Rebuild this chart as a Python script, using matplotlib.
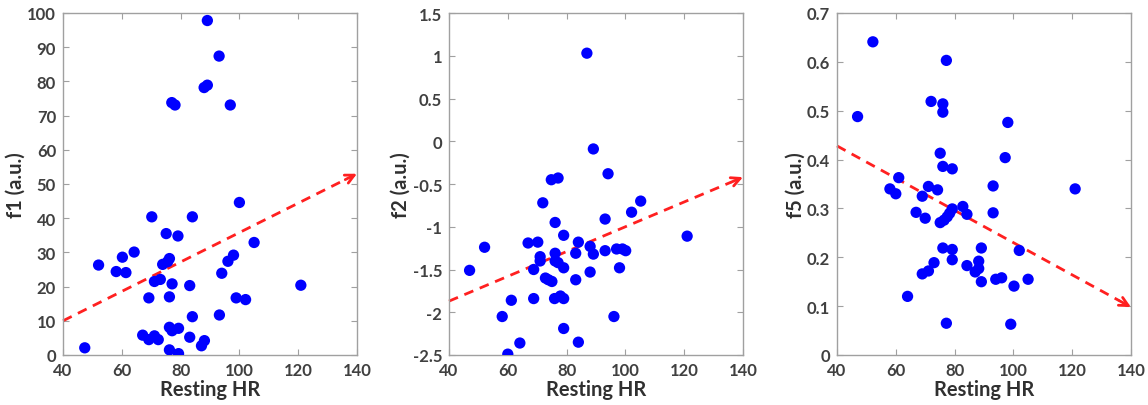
import matplotlib
matplotlib.use("Agg")
import matplotlib.pyplot as plt

plt.rcParams['font.family'] = ['Lato', 'DejaVu Sans']

# Resting heart rate and feature values, one pair of arrays per panel
hr_f1 = [47.4, 52.1, 58.1, 60.2, 61.4, 64.2, 67.1, 69.2, 69.2, 70.2, 71.1, 71.1,
         72.4, 73.1, 73.9, 75.1, 75.6, 76.2, 76.2, 76.2, 76.2, 77.1, 77.1, 79.3,
         79.1, 79.3, 83.1, 83.1, 84.0, 84.0, 87.1, 88.1, 93.2, 94.0, 96.1, 98.0,
         98.9, 100.0, 102.1, 105.0, 120.9, 77.0, 78.1, 88.0, 89.1, 89.1, 93.1, 96.9]
f1 = [2.1, 26.3, 24.4, 28.6, 24.1, 30.1, 5.8, 4.5, 16.7, 40.4, 5.6, 21.5,
      4.5, 22.1, 26.5, 35.5, 27.3, 28.2, 17.0, 8.1, 1.5, 20.8, 7.1, 7.8,
      34.8, 0.4, 20.3, 5.2, 40.4, 11.2, 2.7, 4.2, 11.7, 23.9, 27.4, 29.2,
      16.7, 44.6, 16.2, 32.9, 20.4, 73.8, 73.1, 78.2, 78.9, 97.8, 87.4, 73.1]

hr_f2 = [47.0, 52.1, 58.1, 60.0, 61.2, 64.1, 66.9, 68.8, 68.8, 70.2, 71.0, 71.0,
         71.9, 72.8, 73.8, 75.0, 75.9, 76.1, 76.1, 76.1, 77.1, 77.9, 79.0, 79.0,
         79.0, 79.0, 83.1, 83.1, 84.0, 84.0, 88.0, 88.0, 89.1, 93.1, 93.1, 96.1,
         97.0, 98.0, 99.0, 100.1, 102.1, 105.2, 121.0, 86.9, 89.1, 74.8, 77.1, 94.1]
f2 = [-1.51, -1.24, -2.05, -2.49, -1.86, -2.36, -1.19, -1.50, -1.84, -1.18, -1.35, -1.40,
      -0.72, -1.60, -1.62, -1.64, -1.84, -0.95, -1.31, -1.40, -1.42, -1.81, -1.10, -1.48,
      -1.84, -2.19, -1.31, -1.62, -1.18, -2.35, -1.23, -1.53, -1.32, -0.91, -1.28, -2.05,
      -1.26, -1.48, -1.26, -1.28, -0.83, -0.70, -1.11, 1.03, -0.09, -0.45, -0.43, -0.38]

hr_f5 = [47.0, 52.2, 77.2, 72.0, 76.0, 76.0, 98.1, 75.1, 97.2, 76.0, 79.2, 61.0,
         58.0, 60.0, 71.1, 74.2, 69.0, 93.1, 121.0, 66.9, 70.0, 75.1, 76.4, 77.5,
         78.3, 79.2, 82.8, 84.2, 93.1, 76.0, 79.2, 89.1, 102.0, 73.0, 79.2, 69.0,
         71.1, 84.2, 88.2, 88.2, 87.0, 89.1, 94.0, 96.0, 100.2, 105.0, 64.0, 77.2, 99.1]
f5 = [0.488, 0.641, 0.603, 0.519, 0.514, 0.497, 0.476, 0.413, 0.404, 0.386, 0.381, 0.363,
      0.340, 0.330, 0.345, 0.338, 0.325, 0.346, 0.340, 0.292, 0.280, 0.271, 0.276, 0.283,
      0.290, 0.299, 0.304, 0.288, 0.291, 0.219, 0.216, 0.219, 0.214, 0.189, 0.195, 0.166,
      0.172, 0.183, 0.192, 0.177, 0.170, 0.150, 0.155, 0.158, 0.141, 0.155, 0.120, 0.065, 0.063]

# Trend arrows: (x0, y0) -> (x1, y1)
trend_f1 = [(40, 10.0), (140, 53.0)]
trend_f2 = [(40, -1.87), (140, -0.42)]
trend_f5 = [(40, 0.428), (140, 0.098)]

panels = [
    dict(x=hr_f1, y=f1, trend=trend_f1, ylabel='f1 (a.u.)', ylim=(0, 100),
         yticks=[0, 10, 20, 30, 40, 50, 60, 70, 80, 90, 100],
         yticklabels=['0', '10', '20', '30', '40', '50', '60', '70', '80', '90', '100']),
    dict(x=hr_f2, y=f2, trend=trend_f2, ylabel='f2 (a.u.)', ylim=(-2.5, 1.5),
         yticks=[-2.5, -2, -1.5, -1, -0.5, 0, 0.5, 1, 1.5],
         yticklabels=['-2.5', '-2', '-1.5', '-1', '-0.5', '0', '0.5', '1', '1.5']),
    dict(x=hr_f5, y=f5, trend=trend_f5, ylabel='f5 (a.u.)', ylim=(0, 0.7),
         yticks=[0, 0.1, 0.2, 0.3, 0.4, 0.5, 0.6, 0.7],
         yticklabels=['0', '0.1', '0.2', '0.3', '0.4', '0.5', '0.6', '0.7']),
]
xticks = [40, 60, 80, 100, 120, 140]

fig = plt.figure(figsize=(11.48, 4.06), dpi=100)
lefts = [63 / 1148, 449 / 1148, 837 / 1148]
width = 294 / 1148
bottom = 50 / 406
height = 342 / 406

tick_col = '#404040'
for left, p in zip(lefts, panels):
    ax = fig.add_axes([left, bottom, width, height])
    ax.scatter(p['x'], p['y'], s=66, color='#0000ff', edgecolors='none', zorder=3)

    (x0, y0), (x1, y1) = p['trend']
    # dashed shaft stops short of the tip, the open head is drawn solid
    frac = 0.96
    xs = x0 + (x1 - x0) * frac
    ys = y0 + (y1 - y0) * frac
    ax.plot([x0, xs], [y0, ys], color='#ff2020', lw=2, ls=(0, (3.5, 2.5)),
            clip_on=False, zorder=2)
    ax.annotate('', xy=(x1, y1), xytext=(xs, ys),
                arrowprops=dict(arrowstyle='->', color='#ff2020', lw=2,
                                mutation_scale=16, shrinkA=0, shrinkB=0),
                annotation_clip=False)

    ax.set_xlim(40, 140)
    ax.set_ylim(*p['ylim'])
    ax.set_xticks(xticks)
    ax.set_xticklabels([str(t) for t in xticks])
    ax.set_yticks(p['yticks'])
    ax.set_yticklabels(p['yticklabels'])
    ax.tick_params(direction='in', length=4, width=0.8, color='#a0a0a0',
                   top=True, right=True, labelsize=12, labelcolor=tick_col, pad=5)
    for lab in ax.get_xticklabels() + ax.get_yticklabels():
        lab.set_fontweight('bold')
    for sp in ax.spines.values():
        sp.set_color('#a0a0a0')
        sp.set_linewidth(1.0)
    ax.set_xlabel('Resting HR', fontsize=14.5, fontweight='bold', color='#303030',
                  labelpad=1)
    ax.set_ylabel(p['ylabel'], fontsize=14.5, fontweight='bold', color='#303030',
                  labelpad=1)

fig.savefig('out.png', dpi=100)
